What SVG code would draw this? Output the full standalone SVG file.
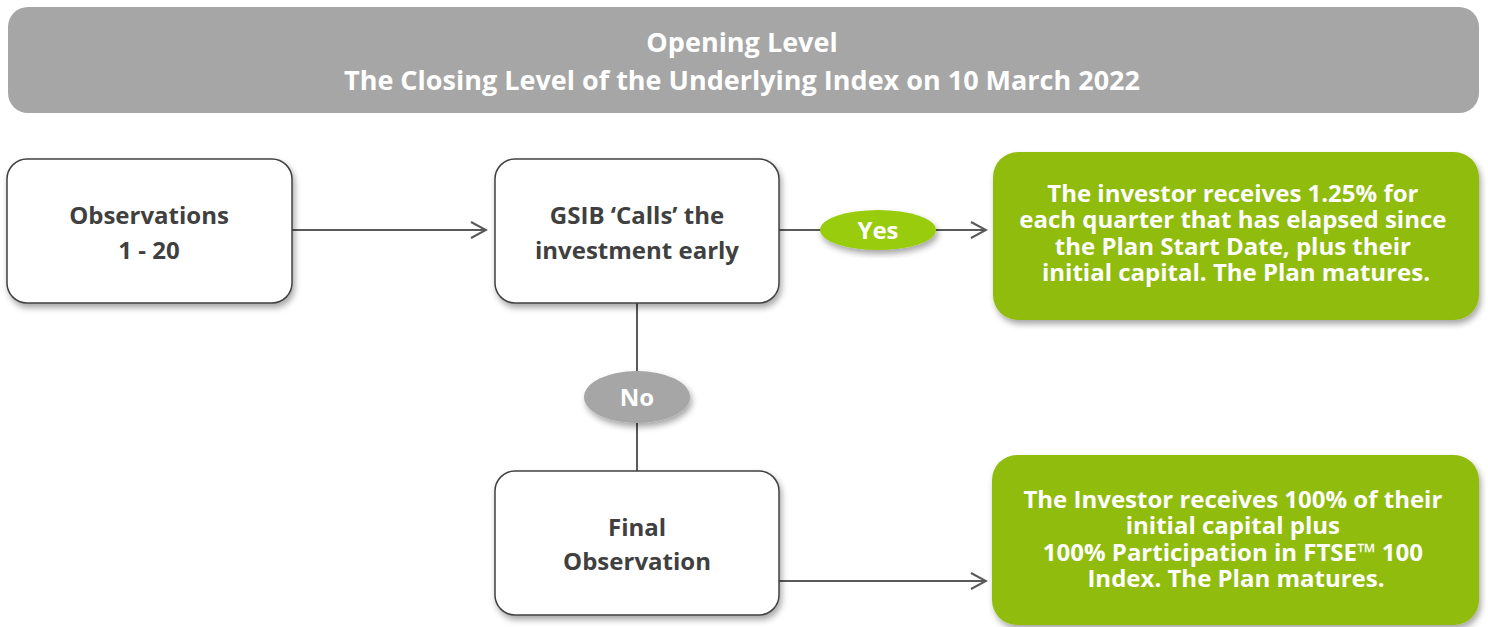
<svg xmlns="http://www.w3.org/2000/svg" width="1488" height="627" viewBox="0 0 1488 627">
<defs>
<filter id="sh" x="-10%" y="-10%" width="125%" height="130%">
<feDropShadow dx="2" dy="4" stdDeviation="3" flood-color="#000" flood-opacity="0.35"/>
</filter>
<marker id="arr" markerWidth="18" markerHeight="18" refX="16" refY="9" orient="auto" markerUnits="userSpaceOnUse">
<path d="M1,1 L16,9 L1,17" fill="none" stroke="#595959" stroke-width="2"/>
</marker>
<style>
.t{font-family:"Open Sans","Liberation Sans",sans-serif;font-weight:bold;text-anchor:middle}
.w{fill:#fff}
.d{fill:#404040}
.box{fill:#fff;stroke:#404040;stroke-width:1.5}
.green{fill:#8fbc0f}
.conn{stroke:#595959;stroke-width:2;fill:none}
</style>
</defs>
<g id="header">
<rect x="8" y="7" width="1471" height="106" rx="20" fill="#a6a6a6"/>
<text class="t w" x="742" y="52" font-size="27">Opening Level</text>
<text class="t w" x="742" y="90" font-size="27">The Closing Level of the Underlying Index on 10 March 2022</text>
</g>
<g id="connectors">
<line class="conn" x1="292" y1="230" x2="486" y2="230" marker-end="url(#arr)"/>
<line class="conn" x1="779" y1="230" x2="822" y2="230"/>
<line class="conn" x1="936" y1="230" x2="986" y2="230" marker-end="url(#arr)"/>
<line class="conn" x1="637" y1="303" x2="637" y2="371"/>
<line class="conn" x1="637" y1="422" x2="637" y2="471"/>
<line class="conn" x1="779" y1="581" x2="986" y2="581" marker-end="url(#arr)"/>
</g>
<g id="observations">
<rect class="box" x="7" y="159" width="285" height="144" rx="20" filter="url(#sh)"/>
<text class="t d" x="149" y="224" font-size="24">Observations</text>
<text class="t d" x="149" y="259" font-size="24">1 - 20</text>
</g>
<g id="gsib">
<rect class="box" x="495" y="159" width="284" height="144" rx="20" filter="url(#sh)"/>
<text class="t d" x="637" y="224" font-size="24">GSIB ‘Calls’ the</text>
<text class="t d" x="637" y="259" font-size="24">investment early</text>
</g>
<g id="yes">
<ellipse cx="878" cy="230" rx="58" ry="20" fill="#99cc11" filter="url(#sh)"/>
<text class="t w" x="878" y="239" font-size="24">Yes</text>
</g>
<g id="outcome-call">
<rect class="green" x="993" y="152" width="486" height="168" rx="25" filter="url(#sh)"/>
<text class="t w" font-size="24">
<tspan x="1236" y="202">The investor receives 1.25% for</tspan>
<tspan x="1236" y="228">each quarter that has elapsed since</tspan>
<tspan x="1236" y="255">the Plan Start Date, plus their</tspan>
<tspan x="1236" y="281">initial capital. The Plan matures.</tspan>
</text>
</g>
<g id="no">
<ellipse cx="637" cy="397" rx="53" ry="26" fill="#a6a6a6" filter="url(#sh)"/>
<text class="t w" x="637" y="406" font-size="24">No</text>
</g>
<g id="final">
<rect class="box" x="495" y="471" width="284" height="144" rx="20" filter="url(#sh)"/>
<text class="t d" x="637" y="536" font-size="24">Final</text>
<text class="t d" x="637" y="570" font-size="24">Observation</text>
</g>
<g id="outcome-final">
<rect class="green" x="992" y="455" width="487" height="170" rx="25" filter="url(#sh)"/>
<text class="t w" font-size="24">
<tspan x="1236" y="508">The Investor receives 100% of their</tspan>
<tspan x="1236" y="534">initial capital plus</tspan>
<tspan x="1236" y="561">100% Participation in FTSE™ 100</tspan>
<tspan x="1236" y="587">Index. The Plan matures.</tspan>
</text>
</g>
</svg>
